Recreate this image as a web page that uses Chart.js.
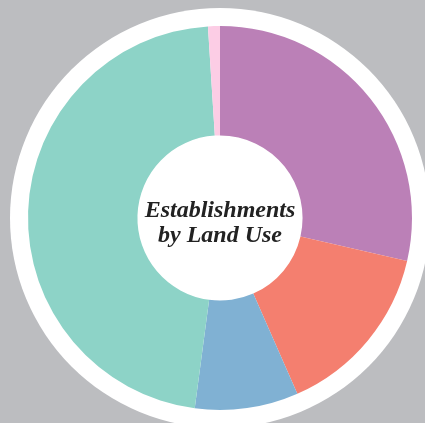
<!DOCTYPE html>
<html>
<head>
<meta charset="utf-8">
<script src="https://cdn.jsdelivr.net/npm/chart.js@4/dist/chart.umd.min.js"></script>
<style>
  html, body { margin: 0; padding: 0; overflow: hidden; background: #bcbdc0; }
  body { width: 425px; height: 423px; position: relative; }
  .wrap { position: absolute; left: 0; top: -2px; width: 440px; height: 440px; }
</style>
</head>
<body>
<div class="wrap"><canvas id="myChart"></canvas></div>
<script>
const categories = ['Commercial', 'Industrial', 'Institutional', 'Residential', 'Other'];
const shares = [28.6, 14.8, 8.7, 46.9, 1.0];
const colors = ['#bb80b7', '#f47f6f', '#80b1d3', '#8dd3c7', '#fccde5'];
const centerLines = ['Establishments', 'by Land Use'];

// white disc behind the ring + the title in the hole
const backdrop = {
  id: 'backdrop',
  beforeDatasetsDraw(chart) {
    const arc = chart.getDatasetMeta(0).data[0];
    if (!arc) return;
    const ctx = chart.ctx;
    ctx.save();
    ctx.fillStyle = '#ffffff';
    ctx.beginPath();
    ctx.arc(arc.x, arc.y, arc.outerRadius + 18, 0, Math.PI * 2);
    ctx.fill();
    ctx.restore();
  },
  afterDraw(chart) {
    const arc = chart.getDatasetMeta(0).data[0];
    if (!arc) return;
    const ctx = chart.ctx;
    ctx.save();
    ctx.fillStyle = '#222222';
    ctx.font = 'italic bold 24px "Liberation Serif", serif';
    ctx.textAlign = 'center';
    ctx.textBaseline = 'alphabetic';
    ctx.fillText(centerLines[0], arc.x, arc.y - 1);
    ctx.fillText(centerLines[1], arc.x, arc.y + 24);
    ctx.restore();
  }
};

const chart = new Chart(document.getElementById('myChart'), {
  type: 'doughnut',
  data: {
    labels: categories,
    datasets: [{
      data: shares,
      backgroundColor: colors,
      borderWidth: 0
    }]
  },
  options: {
    responsive: true,
    maintainAspectRatio: false,
    animation: false,
    cutout: '43%',
    layout: { padding: 28 },
    plugins: {
      legend: { display: false },
      tooltip: { enabled: false }
    }
  },
  plugins: [backdrop]
});
</script>
</body>
</html>
